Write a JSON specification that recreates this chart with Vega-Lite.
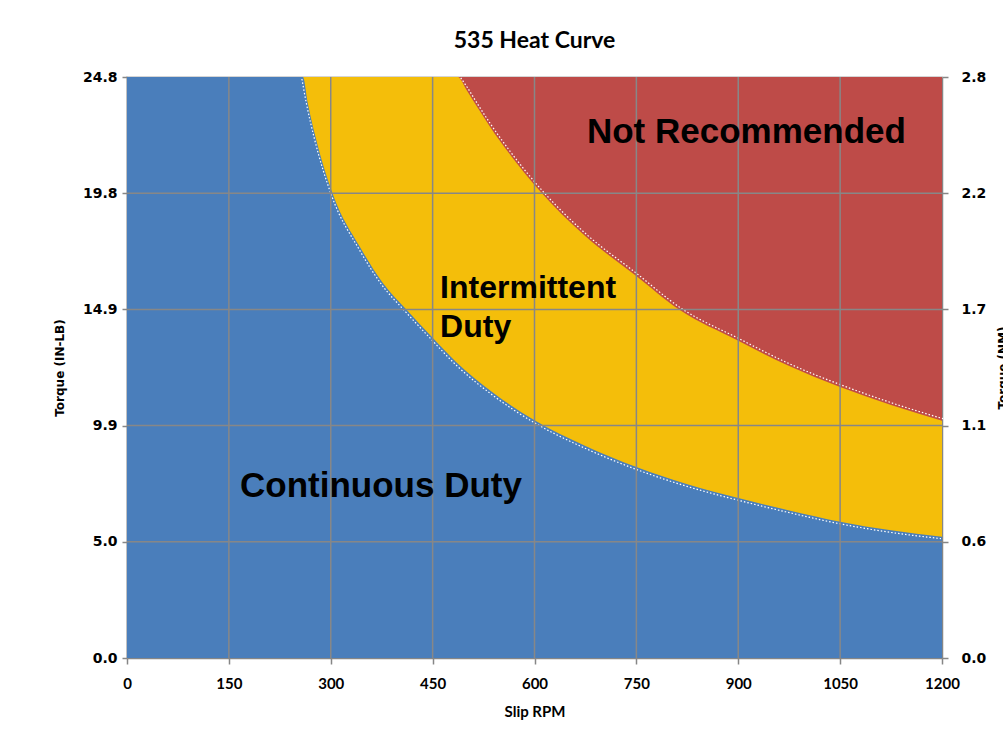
{
  "$schema": "https://vega.github.io/schema/vega-lite/v6.json",
  "width": 815,
  "height": 581,
  "autosize": {"type": "none"},
  "padding": {"left": 127, "top": 77, "right": 61, "bottom": 77},
  "background": "white",
  "config": {"view": {"stroke": "#c8c8c8", "strokeWidth": 1.5}},
  "title": {
    "text": "535 Heat Curve",
    "font": "Lato",
    "fontSize": 23,
    "fontWeight": "bold",
    "color": "black",
    "anchor": "middle",
    "baseline": "alphabetic",
    "offset": -1
  },
  "datasets": {
    "blue": [
      {"rpm": 0, "torque": 24.8}, {"rpm": 259, "torque": 24.8}, {"rpm": 266, "torque": 23.7},
      {"rpm": 277, "torque": 22.3},
      {"rpm": 303, "torque": 19.8}, {"rpm": 343, "torque": 17.54}, {"rpm": 377, "torque": 16.0},
      {"rpm": 412, "torque": 14.85}, {"rpm": 449, "torque": 13.7}, {"rpm": 486, "torque": 12.59},
      {"rpm": 540, "torque": 11.3}, {"rpm": 600, "torque": 10.15}, {"rpm": 675, "torque": 9.05},
      {"rpm": 750, "torque": 8.15}, {"rpm": 825, "torque": 7.42}, {"rpm": 900, "torque": 6.83},
      {"rpm": 975, "torque": 6.3}, {"rpm": 1050, "torque": 5.82}, {"rpm": 1125, "torque": 5.45},
      {"rpm": 1200, "torque": 5.18}
    ],
    "red": [
      {"rpm": 0, "torque": 24.8}, {"rpm": 487, "torque": 24.8}, {"rpm": 500, "torque": 24.25},
      {"rpm": 515, "torque": 23.55}, {"rpm": 534, "torque": 22.7}, {"rpm": 565, "torque": 21.45},
      {"rpm": 604, "torque": 20.06}, {"rpm": 675, "torque": 18.0}, {"rpm": 748, "torque": 16.35},
      {"rpm": 814, "torque": 14.85}, {"rpm": 898, "torque": 13.57}, {"rpm": 975, "torque": 12.46},
      {"rpm": 1050, "torque": 11.57}, {"rpm": 1125, "torque": 10.8}, {"rpm": 1200, "torque": 10.13}
    ],
    "full": [{"rpm": 0, "torque": 24.8}, {"rpm": 1200, "torque": 24.8}],
    "vgrid": [
      {"rpm": 150, "torque": 0, "torque2": 24.8}, {"rpm": 300, "torque": 0, "torque2": 24.8},
      {"rpm": 450, "torque": 0, "torque2": 24.8}, {"rpm": 600, "torque": 0, "torque2": 24.8},
      {"rpm": 750, "torque": 0, "torque2": 24.8}, {"rpm": 900, "torque": 0, "torque2": 24.8},
      {"rpm": 1050, "torque": 0, "torque2": 24.8}
    ],
    "hgrid": [
      {"rpm": 0, "rpm2": 1200, "torque": 4.96}, {"rpm": 0, "rpm2": 1200, "torque": 9.92},
      {"rpm": 0, "rpm2": 1200, "torque": 14.88}, {"rpm": 0, "rpm2": 1200, "torque": 19.84}
    ],
    "bigLabels": [
      {"rpm": 912, "torque": 21.98, "label": "Not Recommended"},
      {"rpm": 374, "torque": 6.87, "label": "Continuous Duty"}
    ],
    "midLabel": [
      {"rpm": 461, "torque": 15.37, "label": "Intermittent\nDuty"}
    ],
    "nm": [{"nm": 0}, {"nm": 2.8}]
  },
  "layer": [
    {
      "encoding": {
        "x": {
          "field": "rpm", "type": "quantitative",
          "scale": {"domain": [0, 1200], "nice": false},
          "axis": {
            "values": [0, 150, 300, 450, 600, 750, 900, 1050, 1200],
            "format": "d",
            "title": "Slip RPM",
            "grid": false,
            "domainColor": "#868686", "domainWidth": 1.5,
            "tickColor": "#868686", "tickWidth": 1.5, "tickSize": 6,
            "labelFont": "Lato", "labelFontWeight": "bold", "labelFontSize": 15,
            "labelColor": "black", "labelPadding": 12, "labelFlush": false,
            "titleFont": "Lato", "titleFontWeight": "bold", "titleFontSize": 15,
            "titleColor": "black", "titlePadding": 13
          }
        },
        "y": {
          "field": "torque", "type": "quantitative",
          "scale": {"domain": [0, 24.8], "nice": false},
          "axis": {
            "values": [0, 4.96, 9.92, 14.88, 19.84, 24.8],
            "format": ".1f",
            "title": "Torque (IN-LB)",
            "grid": false,
            "domainColor": "#868686", "domainWidth": 1.5,
            "tickColor": "#868686", "tickWidth": 1.5, "tickSize": 5,
            "labelFont": "DejaVu Sans", "labelFontWeight": "bold", "labelFontSize": 14,
            "labelColor": "black", "labelPadding": 5,
            "titleFont": "DejaVu Sans", "titleFontWeight": "bold", "titleFontSize": 12,
            "titleColor": "black", "titlePadding": 16
          }
        }
      },
      "layer": [
        {"data": {"name": "full"}, "mark": {"type": "area", "color": "#BE4B48"}},
        {"data": {"name": "red"}, "mark": {"type": "area", "color": "#F4BE0A", "interpolate": "monotone"}},
        {"data": {"name": "blue"}, "mark": {"type": "area", "color": "#4A7EBB", "interpolate": "monotone"}},
        {
          "data": {"name": "red"}, "transform": [{"filter": "datum.rpm > 0"}],
          "mark": {"type": "line", "color": "white", "strokeWidth": 1.2, "strokeDash": [1.5, 2], "interpolate": "monotone", "xOffset": 1, "yOffset": -2}
        },
        {
          "data": {"name": "blue"}, "transform": [{"filter": "datum.rpm > 0"}],
          "mark": {"type": "line", "color": "white", "strokeWidth": 1.2, "strokeDash": [1.5, 2], "interpolate": "monotone", "xOffset": -1, "yOffset": 2}
        },
        {
          "data": {"name": "vgrid"},
          "mark": {"type": "rule", "color": "#878787", "strokeWidth": 1.5},
          "encoding": {"y2": {"field": "torque2"}}
        },
        {
          "data": {"name": "hgrid"},
          "mark": {"type": "rule", "color": "#878787", "strokeWidth": 1.5},
          "encoding": {"x2": {"field": "rpm2"}}
        },
        {
          "data": {"name": "bigLabels"},
          "mark": {"type": "text", "font": "Liberation Sans", "fontWeight": "bold", "fontSize": 35, "align": "center", "baseline": "alphabetic", "color": "black"},
          "encoding": {"text": {"field": "label"}}
        },
        {
          "data": {"name": "midLabel"},
          "mark": {"type": "text", "font": "Liberation Sans", "fontWeight": "bold", "fontSize": 32, "align": "left", "baseline": "alphabetic", "color": "black", "lineBreak": "\n", "lineHeight": 39},
          "encoding": {"text": {"field": "label"}}
        }
      ]
    },
    {
      "data": {"name": "nm"},
      "mark": {"type": "point", "opacity": 0},
      "encoding": {
        "y": {
          "field": "nm", "type": "quantitative",
          "scale": {"domain": [0, 2.8], "nice": false},
          "axis": {
            "orient": "right",
            "values": [0, 0.56, 1.12, 1.68, 2.24, 2.8],
            "format": ".1f",
            "title": "Torque (NM)",
            "titleAngle": 270,
            "grid": false,
            "domainColor": "#868686", "domainWidth": 1.5,
            "tickColor": "#868686", "tickWidth": 1.5, "tickSize": 6,
            "labelFont": "DejaVu Sans", "labelFontWeight": "bold", "labelFontSize": 14,
            "labelColor": "black", "labelPadding": 13,
            "titleFont": "DejaVu Sans", "titleFontWeight": "bold", "titleFontSize": 12,
            "titleColor": "black", "titlePadding": 24
          }
        }
      }
    }
  ],
  "resolve": {"scale": {"y": "independent"}}
}
